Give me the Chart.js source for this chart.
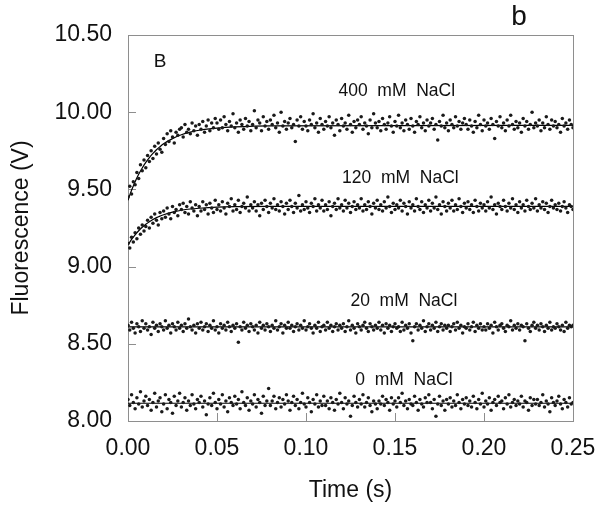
<!DOCTYPE html>
<html>
<head>
<meta charset="utf-8">
<script src="https://cdn.jsdelivr.net/npm/chart.js@4.4.1/dist/chart.umd.min.js"></script>
<style>
  html, body { margin: 0; padding: 0; background: #fff; }
  #wrap { width: 600px; height: 508px; }
</style>
</head>
<body>
<div id="wrap"><canvas id="chart" width="600" height="508"></canvas></div>
<script>
// sampling step of the recorded traces (s)
const sampleStep = 0.001;

const nacl400 = [
  9.45, 9.52, 9.47, 9.55, 9.53, 9.61, 9.57, 9.66, 9.62, 9.69,
  9.64, 9.72, 9.68, 9.75, 9.70, 9.78, 9.73, 9.80, 9.76, 9.74,
  9.83, 9.79, 9.86, 9.81, 9.88, 9.84, 9.80, 9.87, 9.85, 9.89,
  9.90, 9.84, 9.92, 9.87, 9.89, 9.86, 9.93, 9.88, 9.91, 9.85,
  9.92, 9.89, 9.94, 9.87, 9.91, 9.95, 9.88, 9.93, 9.90, 9.96,
  9.93, 9.89, 9.95, 9.90, 9.97, 9.92, 9.88, 9.94, 9.91, 9.99,
  9.90, 9.93, 9.87, 9.95, 9.92, 9.89, 9.96, 9.91, 9.94, 9.88,
  9.92, 10.01, 9.90, 9.95, 9.93, 9.88, 9.97, 9.91, 9.94, 9.89,
  9.95, 9.92, 9.98, 9.90, 9.93, 9.87, 10.00, 9.91, 9.94, 9.89,
  9.93, 9.96, 9.90, 9.92, 9.81, 9.95, 9.91, 9.97, 9.89, 9.94,
  9.91, 9.88, 9.95, 9.92, 9.99, 9.90, 9.93, 9.87, 9.96, 9.92,
  9.89, 9.94, 9.91, 9.97, 9.90, 9.93, 9.85, 9.95, 9.92, 9.88,
  9.96, 9.91, 9.93, 9.89, 9.98, 9.92, 9.87, 9.94, 9.90, 9.95,
  9.92, 9.97, 9.89, 9.93, 9.91, 9.86, 9.95, 9.90, 9.99, 9.93,
  9.90, 9.94, 9.88, 9.96, 9.92, 9.89, 9.93, 9.97, 9.91, 9.87,
  9.94, 9.91, 9.98, 9.90, 9.93, 9.88, 9.95, 9.92, 9.89, 9.96,
  9.91, 9.87, 9.94, 9.92, 9.97, 9.90, 9.93, 9.88, 9.95, 9.91,
  9.93, 9.96, 9.89, 9.92, 9.82, 9.94, 9.91, 9.98, 9.90, 9.93,
  9.88, 9.95, 9.92, 9.90, 9.97, 9.91, 9.94, 9.89, 9.93, 9.96,
  9.92, 9.89, 9.95, 9.91, 9.87, 9.94, 9.90, 9.98, 9.92, 9.88,
  9.95, 9.91, 9.93, 9.89, 9.96, 9.92, 9.83, 9.94, 9.91, 9.97,
  9.90, 9.93, 9.88, 9.95, 9.91, 9.98, 9.92, 9.89, 9.94, 9.90,
  9.93, 9.87, 9.96, 9.91, 9.94, 9.89, 9.92, 10.00, 9.90, 9.93,
  9.91, 9.95, 9.88, 9.93, 9.90, 9.97, 9.92, 9.89, 9.95, 9.91,
  9.94, 9.90, 9.92, 9.87, 9.96, 9.91, 9.93, 9.89, 9.95, 9.92,
  9.90
];

const nacl120 = [
  9.15, 9.12, 9.19, 9.16, 9.22, 9.18, 9.25, 9.21, 9.27, 9.23,
  9.26, 9.30, 9.25, 9.32, 9.28, 9.34, 9.30, 9.27, 9.35, 9.31,
  9.36, 9.32, 9.38, 9.34, 9.31, 9.39, 9.35, 9.37, 9.33, 9.40,
  9.37, 9.41, 9.35, 9.39, 9.34, 9.42, 9.38, 9.36, 9.40, 9.33,
  9.39, 9.36, 9.42, 9.37, 9.40, 9.34, 9.41, 9.38, 9.35, 9.43,
  9.37, 9.40, 9.36, 9.42, 9.38, 9.34, 9.41, 9.39, 9.44, 9.36,
  9.40, 9.37, 9.43, 9.35, 9.39, 9.41, 9.38, 9.45, 9.36, 9.40,
  9.38, 9.42, 9.36, 9.40, 9.33, 9.41, 9.37, 9.43, 9.39, 9.35,
  9.41, 9.38, 9.44, 9.37, 9.40, 9.36, 9.42, 9.39, 9.34, 9.41,
  9.37, 9.43, 9.39, 9.35, 9.41, 9.38, 9.46, 9.36, 9.40, 9.37,
  9.42, 9.38, 9.35, 9.41, 9.39, 9.44, 9.36, 9.40, 9.38, 9.43,
  9.36, 9.40, 9.37, 9.42, 9.33, 9.39, 9.41, 9.37, 9.44, 9.38,
  9.40, 9.36, 9.43, 9.38, 9.41, 9.35, 9.39, 9.42, 9.37, 9.40,
  9.38, 9.44, 9.36, 9.40, 9.37, 9.42, 9.39, 9.34, 9.41, 9.38,
  9.43, 9.37, 9.40, 9.36, 9.42, 9.38, 9.45, 9.39, 9.35, 9.41,
  9.37, 9.40, 9.38, 9.43, 9.36, 9.41, 9.39, 9.34, 9.42, 9.38,
  9.40, 9.36, 9.44, 9.39, 9.37, 9.42, 9.35, 9.40, 9.38, 9.43,
  9.36, 9.41, 9.38, 9.45, 9.37, 9.40, 9.34, 9.42, 9.39, 9.36,
  9.41, 9.38, 9.43, 9.36, 9.40, 9.37, 9.44, 9.39, 9.35, 9.41,
  9.38, 9.42, 9.37, 9.40, 9.35, 9.43, 9.39, 9.36, 9.41, 9.38,
  9.40, 9.36, 9.42, 9.38, 9.45, 9.37, 9.40, 9.34, 9.41, 9.39,
  9.37, 9.43, 9.39, 9.36, 9.41, 9.38, 9.44, 9.37, 9.40, 9.35,
  9.42, 9.38, 9.40, 9.36, 9.43, 9.39, 9.37, 9.41, 9.38, 9.44,
  9.36, 9.40, 9.38, 9.42, 9.37, 9.41, 9.35, 9.39, 9.43, 9.38,
  9.40, 9.37, 9.41, 9.36, 9.39, 9.42, 9.38, 9.35, 9.40, 9.39,
  9.37
];

const nacl20 = [
  8.62, 8.59, 8.64, 8.60, 8.57, 8.63, 8.61, 8.58, 8.65, 8.60,
  8.63, 8.59, 8.61, 8.56, 8.64, 8.60, 8.62, 8.58, 8.63, 8.61,
  8.59, 8.65, 8.60, 8.62, 8.57, 8.63, 8.61, 8.59, 8.64, 8.60,
  8.62, 8.58, 8.63, 8.60, 8.66, 8.61, 8.59, 8.62, 8.57, 8.63,
  8.60, 8.64, 8.59, 8.61, 8.63, 8.58, 8.62, 8.60, 8.65, 8.59,
  8.61, 8.57, 8.63, 8.60, 8.62, 8.59, 8.64, 8.61, 8.58, 8.62,
  8.60, 8.63, 8.51, 8.61, 8.59, 8.64, 8.60, 8.62, 8.58, 8.63,
  8.61, 8.59, 8.62, 8.57, 8.64, 8.60, 8.62, 8.59, 8.63, 8.61,
  8.58, 8.62, 8.60, 8.65, 8.59, 8.61, 8.63, 8.57, 8.62, 8.60,
  8.64, 8.60, 8.62, 8.58, 8.61, 8.63, 8.59, 8.62, 8.60, 8.65,
  8.59, 8.61, 8.63, 8.60, 8.57, 8.62, 8.60, 8.64, 8.58, 8.61,
  8.62, 8.59, 8.64, 8.60, 8.62, 8.58, 8.61, 8.63, 8.59, 8.62,
  8.60, 8.63, 8.58, 8.61, 8.65, 8.59, 8.62, 8.60, 8.57, 8.63,
  8.61, 8.59, 8.62, 8.64, 8.60, 8.58, 8.63, 8.61, 8.59, 8.62,
  8.60, 8.64, 8.59, 8.62, 8.57, 8.63, 8.60, 8.62, 8.58, 8.61,
  8.63, 8.60, 8.61, 8.58, 8.64, 8.59, 8.62, 8.60, 8.63, 8.57,
  8.52, 8.61, 8.63, 8.59, 8.62, 8.60, 8.65, 8.58, 8.61, 8.63,
  8.59, 8.62, 8.60, 8.64, 8.58, 8.61, 8.63, 8.59, 8.62, 8.60,
  8.62, 8.58, 8.61, 8.63, 8.59, 8.64, 8.60, 8.62, 8.57, 8.61,
  8.60, 8.63, 8.59, 8.61, 8.64, 8.58, 8.62, 8.60, 8.63, 8.59,
  8.61, 8.59, 8.63, 8.60, 8.62, 8.57, 8.64, 8.61, 8.59, 8.62,
  8.63, 8.60, 8.58, 8.62, 8.61, 8.65, 8.59, 8.62, 8.60, 8.63,
  8.59, 8.62, 8.61, 8.52, 8.63, 8.60, 8.58, 8.62, 8.64, 8.60,
  8.62, 8.59, 8.63, 8.61, 8.58, 8.62, 8.60, 8.64, 8.59, 8.61,
  8.60, 8.63, 8.61, 8.59, 8.62, 8.58, 8.64, 8.60, 8.62, 8.61,
  8.62
];

const nacl0 = [
  8.14, 8.10, 8.17, 8.12, 8.08, 8.15, 8.11, 8.19, 8.09, 8.13,
  8.16, 8.10, 8.14, 8.07, 8.12, 8.18, 8.09, 8.13, 8.15, 8.06,
  8.11, 8.17, 8.08, 8.14, 8.12, 8.05, 8.16, 8.10, 8.13, 8.18,
  8.09, 8.12, 8.15, 8.07, 8.13, 8.10, 8.17, 8.11, 8.08, 8.14,
  8.12, 8.16, 8.09, 8.13, 8.04, 8.11, 8.15, 8.10, 8.18, 8.12,
  8.08, 8.14, 8.11, 8.17, 8.09, 8.13, 8.06, 8.15, 8.12, 8.10,
  8.16, 8.11, 8.14, 8.08, 8.19, 8.12, 8.10, 8.15, 8.07, 8.13,
  8.11, 8.17, 8.09, 8.14, 8.12, 8.05, 8.16, 8.10, 8.13, 8.21,
  8.10, 8.13, 8.16, 8.08, 8.12, 8.15, 8.09, 8.14, 8.11, 8.17,
  8.13, 8.07, 8.12, 8.16, 8.10, 8.14, 8.08, 8.12, 8.18, 8.11,
  8.09, 8.15, 8.12, 8.06, 8.14, 8.11, 8.17, 8.09, 8.13, 8.10,
  8.16, 8.10, 8.13, 8.08, 8.15, 8.12, 8.07, 8.14, 8.11, 8.18,
  8.12, 8.08, 8.15, 8.11, 8.13, 8.03, 8.10, 8.16, 8.12, 8.09,
  8.14, 8.11, 8.17, 8.09, 8.12, 8.15, 8.10, 8.06, 8.13, 8.11,
  8.08, 8.13, 8.11, 8.16, 8.10, 8.14, 8.12, 8.07, 8.15, 8.11,
  8.13, 8.09, 8.15, 8.12, 8.18, 8.10, 8.13, 8.08, 8.14, 8.11,
  8.10, 8.16, 8.12, 8.07, 8.14, 8.11, 8.09, 8.15, 8.12, 8.17,
  8.12, 8.08, 8.14, 8.03, 8.11, 8.16, 8.10, 8.13, 8.07, 8.14,
  8.11, 8.15, 8.09, 8.13, 8.10, 8.17, 8.12, 8.08, 8.14, 8.11,
  8.15, 8.10, 8.13, 8.09, 8.16, 8.12, 8.08, 8.14, 8.11, 8.18,
  8.09, 8.13, 8.11, 8.15, 8.07, 8.12, 8.14, 8.10, 8.16, 8.12,
  8.13, 8.08, 8.15, 8.11, 8.17, 8.09, 8.12, 8.14, 8.10, 8.13,
  8.11, 8.16, 8.09, 8.13, 8.12, 8.07, 8.15, 8.10, 8.14, 8.11,
  8.14, 8.10, 8.12, 8.17, 8.09, 8.13, 8.11, 8.06, 8.15, 8.12,
  8.10, 8.13, 8.16, 8.11, 8.08, 8.14, 8.12, 8.09, 8.15, 8.11,
  8.12
];

// fitted curves
const fitTimes = [0, 0.002, 0.004, 0.006, 0.008, 0.010, 0.012, 0.014, 0.016, 0.018,
                  0.020, 0.025, 0.030, 0.035, 0.040, 0.050, 0.060, 0.080, 0.250];
const fit400 = [9.43, 9.494, 9.550, 9.598, 9.639, 9.675, 9.706, 9.733, 9.757, 9.777,
                9.795, 9.829, 9.854, 9.871, 9.883, 9.897, 9.905, 9.912, 9.915];
const fit120 = [9.14, 9.176, 9.206, 9.232, 9.255, 9.274, 9.291, 9.305, 9.317, 9.327,
                9.336, 9.353, 9.365, 9.373, 9.378, 9.385, 9.388, 9.39, 9.39];
const flatTimes = [0, 0.25];
const fit20 = [8.61, 8.61];
const fit0 = [8.115, 8.115];

// series names and where their captions sit (data coords)
const seriesNames = ['400 mM NaCl', '120 mM NaCl', '20 mM NaCl', '0 mM NaCl'];
const captionAt = [[0.151, 10.137], [0.153, 9.574], [0.155, 8.777], [0.155, 8.266]];

const xTicks = [0, 0.05, 0.10, 0.15, 0.20, 0.25];
const yTicks = [8.00, 8.50, 9.00, 9.50, 10.00, 10.50];

function toPoints(values) {
    return values.map((v, i) => ({ x: i * sampleStep, y: v }));
}
function toLine(times, values) {
    return times.map((t, i) => ({ x: t, y: values[i] }));
}

const dotStyle = {
    showLine: false,
    pointRadius: 1.75,
    pointBackgroundColor: '#1a1a1a',
    pointBorderColor: '#1a1a1a',
    pointBorderWidth: 0
};
const lineStyle = {
    showLine: true,
    pointRadius: 0,
    borderColor: '#000',
    borderWidth: 1.2,
    cubicInterpolationMode: 'monotone'
};

const FONT = "'Liberation Sans', Arial, sans-serif";

//frame, inner ticks and captions
const decorations = {
    id: 'decorations',
    beforeDatasetsDraw(chart) {
        const { ctx, chartArea: a, scales: { x, y } } = chart;
        ctx.save();
        ctx.strokeStyle = '#8e8e8e';
        ctx.lineWidth = 1;
        ctx.strokeRect(a.left + 0.5, a.top + 0.5, a.right - a.left, a.bottom - a.top);
        ctx.beginPath();
        xTicks.slice(1, -1).forEach(t => {
            const px = Math.round(x.getPixelForValue(t)) + 0.5;
            ctx.moveTo(px, a.bottom);
            ctx.lineTo(px, a.bottom - 8);
        });
        yTicks.slice(1, -1).forEach(v => {
            const py = Math.round(y.getPixelForValue(v)) + 0.5;
            ctx.moveTo(a.left, py);
            ctx.lineTo(a.left + 8, py);
        });
        ctx.stroke();
        ctx.restore();
    },
    afterDraw(chart) {
        const { ctx, scales: { x, y } } = chart;
        ctx.save();
        ctx.fillStyle = '#111';
        ctx.textAlign = 'center';
        ctx.textBaseline = 'middle';
        ctx.font = '17.5px ' + FONT;
        seriesNames.forEach((name, i) => {
            const [t, v] = captionAt[i];
            ctx.fillText(name.replace(/ /g, '  '), x.getPixelForValue(t), y.getPixelForValue(v));
        });
        ctx.font = '19px ' + FONT;
        ctx.fillText('B', x.getPixelForValue(0.018), y.getPixelForValue(10.325));
        ctx.font = '28px ' + FONT;
        ctx.fillText('b', 519, 17);
        ctx.restore();
    }
};

new Chart(document.getElementById('chart'), {
    type: 'scatter',
    data: {
        datasets: [
            { ...dotStyle, data: toPoints(nacl400) },
            { ...dotStyle, data: toPoints(nacl120) },
            { ...dotStyle, data: toPoints(nacl20) },
            { ...dotStyle, data: toPoints(nacl0) },
            { ...lineStyle, data: toLine(fitTimes, fit400) },
            { ...lineStyle, data: toLine(fitTimes, fit120) },
            { ...lineStyle, data: toLine(flatTimes, fit20) },
            { ...lineStyle, data: toLine(flatTimes, fit0) }
        ]
    },
    options: {
        responsive: false,
        animation: false,
        devicePixelRatio: 1,
        layout: { padding: { top: 35, right: 27, left: 0, bottom: 0 } },
        plugins: {
            legend: { display: false },
            tooltip: { enabled: false }
        },
        scales: {
            x: {
                type: 'linear',
                min: 0,
                max: 0.25,
                afterBuildTicks: s => { s.ticks = xTicks.map(v => ({ value: v })); },
                afterFit: s => { s.height = 87; s.paddingLeft = 0; s.paddingRight = 0; },
                grid: { display: false, drawTicks: false },
                border: { display: false },
                ticks: {
                    padding: 14,
                    color: '#111',
                    font: { family: FONT, size: 23 },
                    callback: v => v.toFixed(2)
                },
                title: {
                    display: true,
                    text: 'Time (s)',
                    color: '#111',
                    font: { family: FONT, size: 23 },
                    padding: { top: 0, bottom: 4 }
                }
            },
            y: {
                type: 'linear',
                min: 8,
                max: 10.5,
                afterBuildTicks: s => { s.ticks = yTicks.map(v => ({ value: v })); },
                afterFit: s => { s.width = 128; s.paddingTop = 0; s.paddingBottom = 0; },
                grid: { display: false, drawTicks: false },
                border: { display: false },
                ticks: {
                    padding: 16,
                    color: '#111',
                    font: { family: FONT, size: 23 },
                    callback: v => v.toFixed(2)
                },
                title: {
                    display: true,
                    text: 'Fluorescence (V)',
                    color: '#111',
                    font: { family: FONT, size: 23 },
                    padding: { top: 8, bottom: 0 }
                }
            }
        }
    },
    plugins: [decorations]
});
</script>
</body>
</html>
